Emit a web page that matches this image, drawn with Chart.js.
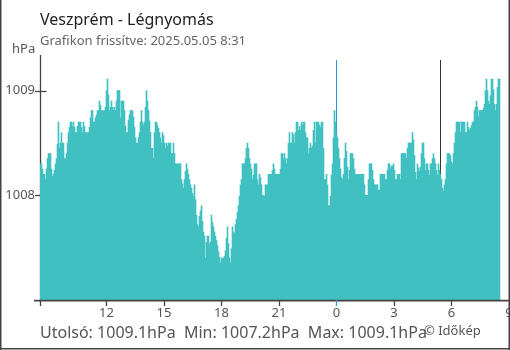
<!DOCTYPE html>
<html><head><meta charset="utf-8">
<script src="https://cdn.jsdelivr.net/npm/chart.js@4.4.1/dist/chart.umd.min.js"></script>
<style>html,body{margin:0;padding:0;background:#fff;overflow:hidden}canvas{display:block}</style>
</head><body>
<canvas id="c" width="510" height="350"></canvas>
<script>
const chartTitle = 'Veszprém - Légnyomás';
const chartSubtitle = 'Grafikon frissítve: 2025.05.05 8:31';
const unitLabel = 'hPa';
const summaryText = 'Utolsó: 1009.1hPa  Min: 1007.2hPa  Max: 1009.1hPa';
const creditText = '© Időkép';

// x axis: hours relative to midnight (2025-05-05 00:00)
const xTickHours = [-12, -9, -6, -3, 0, 3, 6, 9];
const yTickValues = [1008, 1009];
const startHour = -15.47;   // first reading, previous day ~08:32
const spanHours = 24;
const midnightHour = 0;
const sunriseHour = 5.43;

// air pressure readings (hPa), evenly spaced over the 24 hours
const pressure = [
1008.30,1008.30,1008.25,1008.20,1008.20,1008.15,1008.25,1008.35,1008.40,1008.40,
1008.40,1008.25,1008.18,1008.20,1008.24,1008.30,1008.35,1008.49,1008.70,1008.45,
1008.50,1008.60,1008.50,1008.50,1008.35,1008.35,1008.40,1008.50,1008.60,1008.65,
1008.70,1008.70,1008.66,1008.70,1008.65,1008.60,1008.60,1008.66,1008.70,1008.70,
1008.70,1008.65,1008.60,1008.70,1008.66,1008.60,1008.60,1008.60,1008.60,1008.65,
1008.74,1008.81,1008.81,1008.70,1008.70,1008.74,1008.77,1008.81,1008.81,1008.90,
1008.86,1008.81,1008.81,1008.81,1008.81,1008.84,1009.00,1009.11,1008.96,1008.81,
1008.84,1008.90,1008.84,1008.81,1008.84,1008.81,1008.90,1009.00,1009.00,1009.00,
1008.74,1008.90,1008.90,1008.90,1008.81,1008.66,1008.60,1008.60,1008.72,1008.77,
1008.81,1008.81,1008.81,1008.75,1008.65,1008.55,1008.50,1008.50,1008.55,1008.60,
1008.70,1008.81,1008.70,1008.67,1008.70,1008.84,1009.00,1008.90,1008.81,1008.71,
1008.60,1008.45,1008.45,1008.35,1008.60,1008.70,1008.70,1008.67,1008.64,1008.60,
1008.55,1008.50,1008.60,1008.57,1008.50,1008.45,1008.50,1008.47,1008.50,1008.50,
1008.50,1008.40,1008.40,1008.50,1008.40,1008.30,1008.30,1008.30,1008.30,1008.30,
1008.30,1008.15,1008.11,1008.07,1008.15,1008.23,1008.30,1008.25,1008.20,1008.15,
1008.10,1008.07,1008.02,1007.99,1008.10,1007.96,1007.81,1007.72,1007.70,1007.80,
1007.85,1007.90,1007.75,1007.65,1007.61,1007.40,1007.55,1007.61,1007.61,1007.53,
1007.55,1007.81,1007.74,1007.70,1007.65,1007.61,1007.57,1007.52,1007.46,1007.41,
1007.35,1007.40,1007.40,1007.40,1007.42,1007.47,1007.59,1007.70,1007.54,1007.40,
1007.35,1007.49,1007.70,1007.65,1007.64,1007.72,1007.77,1007.84,1007.90,1007.99,
1008.10,1008.15,1008.30,1008.30,1008.30,1008.35,1008.45,1008.50,1008.45,1008.35,
1008.30,1008.25,1008.15,1008.19,1008.30,1008.30,1008.30,1008.15,1008.10,1008.20,
1008.17,1008.10,1008.00,1008.00,1007.99,1008.10,1008.10,1008.10,1008.20,1008.20,
1008.20,1008.20,1008.24,1008.30,1008.25,1008.20,1008.20,1008.20,1008.20,1008.20,
1008.25,1008.40,1008.40,1008.35,1008.40,1008.35,1008.30,1008.35,1008.50,1008.60,
1008.50,1008.50,1008.60,1008.58,1008.50,1008.60,1008.70,1008.70,1008.62,1008.66,
1008.62,1008.70,1008.67,1008.70,1008.70,1008.60,1008.55,1008.55,1008.40,1008.45,
1008.50,1008.45,1008.47,1008.62,1008.70,1008.50,1008.70,1008.70,1008.70,1008.67,
1008.65,1008.70,1008.70,1008.45,1008.15,1008.15,1008.20,1008.10,1007.90,1007.90,
1007.99,1008.19,1008.30,1008.55,1008.81,1008.70,1008.60,1008.55,1008.45,1008.35,
1008.25,1008.17,1008.15,1008.20,1008.35,1008.50,1008.42,1008.27,1008.15,1008.24,
1008.40,1008.40,1008.40,1008.35,1008.25,1008.20,1008.20,1008.20,1008.20,1008.20,
1008.20,1008.20,1008.20,1008.20,1008.10,1008.00,1008.00,1008.00,1008.15,1008.30,
1008.30,1008.30,1008.24,1008.15,1008.10,1008.10,1008.10,1008.10,1008.05,1008.05,
1008.20,1008.20,1008.20,1008.20,1008.20,1008.15,1008.15,1008.24,1008.30,1008.30,
1008.25,1008.28,1008.28,1008.30,1008.24,1008.15,1008.15,1008.20,1008.20,1008.20,
1008.15,1008.40,1008.40,1008.40,1008.40,1008.40,1008.35,1008.45,1008.50,1008.50,
1008.50,1008.50,1008.60,1008.53,1008.38,1008.22,1008.15,1008.30,1008.26,1008.23,
1008.27,1008.40,1008.50,1008.50,1008.35,1008.24,1008.30,1008.30,1008.24,1008.19,
1008.30,1008.30,1008.35,1008.40,1008.35,1008.30,1008.24,1008.19,1008.30,1008.24,
1008.20,1008.15,1008.07,1008.04,1008.10,1008.15,1008.30,1008.40,1008.40,1008.40,
1008.38,1008.32,1008.30,1008.40,1008.50,1008.60,1008.70,1008.70,1008.70,1008.70,
1008.60,1008.70,1008.70,1008.70,1008.70,1008.60,1008.60,1008.70,1008.65,1008.62,
1008.64,1008.67,1008.70,1008.70,1008.81,1008.84,1008.90,1008.84,1008.75,1008.81,
1008.81,1008.81,1008.81,1008.83,1008.87,1009.00,1009.11,1009.00,1008.90,1008.87,
1008.95,1009.11,1009.11,1009.01,1008.87,1008.81,1008.87,1009.03,1009.11,1009.11
];

const times = pressure.map((_, i) => startHour + (i + 0.5) * spanHours / pressure.length);
const points = times.map((t, i) => ({ x: t, y: pressure[i] }));
const hourLabel = h => String(((Math.round(h) % 24) + 24) % 24);

const FONT = '"Noto Sans", "Open Sans", sans-serif';
const AXIS = '#444';
const TEXT = '#555';
const BLUE = '#2b96e0';

function seg(ctx, x1, y1, x2, y2) { ctx.beginPath(); ctx.moveTo(x1, y1); ctx.lineTo(x2, y2); ctx.stroke(); }

const decor = {
  id: 'decor',
  beforeDatasetsDraw(chart) {
    const { ctx, chartArea: a, scales: { x, y } } = chart;
    ctx.save();
    ctx.lineWidth = 1;
    ctx.strokeStyle = BLUE;
    const xm = Math.floor(x.getPixelForValue(midnightHour)) + 0.5;
    seg(ctx, xm, a.top, xm, a.bottom);
    ctx.strokeStyle = '#333';
    const xs = Math.floor(x.getPixelForValue(sunriseHour)) + 0.5;
    seg(ctx, xs, a.top, xs, a.bottom);
    ctx.strokeStyle = AXIS;
    ctx.lineWidth = 1.3;
    seg(ctx, a.left + 0.5, a.top - 5, a.left + 0.5, a.bottom + 6);
    yTickValues.forEach(v => {
      const py = Math.round(y.getPixelForValue(v)) + 0.5;
      seg(ctx, a.left - 5, py, a.left + 6.5, py);
    });
    ctx.restore();
  },
  afterDraw(chart) {
    const { ctx, chartArea: a, scales: { x } } = chart;
    ctx.save();
    ctx.strokeStyle = AXIS;
    ctx.lineWidth = 1.6;
    seg(ctx, a.left - 6, a.bottom + 0.6, chart.width, a.bottom + 0.6);
    ctx.lineWidth = 1.3;
    xTickHours.forEach(h => {
      const px = Math.floor(x.getPixelForValue(h)) + 0.5;
      ctx.strokeStyle = h === midnightHour ? BLUE : AXIS;
      seg(ctx, px, a.bottom, px, a.bottom + 6);
    });
    // frame
    ctx.strokeStyle = AXIS;
    ctx.lineWidth = 1.5;
    seg(ctx, 0.75, 0, 0.75, chart.height);
    seg(ctx, chart.width - 0.75, 0, chart.width - 0.75, chart.height);
    seg(ctx, 0, chart.height - 1.25, chart.width, chart.height - 1.25);
    // texts
    ctx.textBaseline = 'alphabetic';
    ctx.textAlign = 'left';
    ctx.fillStyle = '#222';
    ctx.font = '16px ' + FONT;
    ctx.fillText(chartTitle, 40, 25);
    ctx.fillStyle = '#666';
    ctx.font = '13px ' + FONT;
    ctx.fillText(chartSubtitle, 40, 45);
    ctx.fillStyle = TEXT;
    ctx.font = '13px ' + FONT;
    ctx.fillText(unitLabel, 12, 53);
    ctx.font = '16px ' + FONT;
    ctx.fillText(summaryText, 40, 338);
    ctx.font = '13px ' + FONT;
    ctx.fillText(creditText, 424, 335);
    ctx.restore();
  }
};

new Chart(document.getElementById('c'), {
  type: 'bar',
  data: {
    datasets: [{
      data: points,
      backgroundColor: '#41c0c1',
      borderWidth: 0,
      barPercentage: 1,
      categoryPercentage: 1
    }]
  },
  options: {
    responsive: false,
    animation: false,
    devicePixelRatio: 1,
    layout: { padding: { top: 60, left: 0, right: 1, bottom: 30 } },
    plugins: { legend: { display: false }, tooltip: { enabled: false }, title: { display: false } },
    scales: {
      x: {
        type: 'linear',
        position: 'bottom',
        offset: false,
        min: startHour,
        max: 9,
        afterBuildTicks: s => { s.ticks = xTickHours.map(v => ({ value: v })); },
        afterFit: s => { s.height = 20; s.paddingLeft = 0; s.paddingRight = 0; },
        grid: { display: false, drawTicks: false, offset: false },
        border: { display: false },
        ticks: {
          callback: v => hourLabel(v),
          font: { family: FONT, size: 13 },
          color: TEXT,
          padding: 5,
          maxRotation: 0,
          autoSkip: false
        }
      },
      y: {
        min: 1007,
        max: 1009.293,
        afterBuildTicks: s => { s.ticks = yTickValues.map(v => ({ value: v })); },
        afterFit: s => { s.width = 40; s.paddingTop = 0; s.paddingBottom = 0; },
        grid: { display: false, drawTicks: false },
        border: { display: false },
        ticks: {
          callback: v => String(v),
          font: { family: FONT, size: 13 },
          color: TEXT,
          padding: 5
        }
      }
    }
  },
  plugins: [decor]
});
</script>
</body></html>
